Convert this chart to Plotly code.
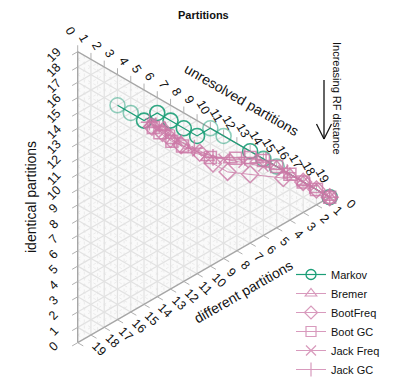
import numpy as np
import plotly.graph_objects as go

# ---------------- data ----------------
N_PARTITIONS = 19
tick_values = list(range(0, 20))

markov_identical = [14, 13, 12, 12, 11, 10, 9, 9, 8, 6, 5, 4, 0]
markov_unresolved = [3, 4, 5, 6, 7, 8, 9, 10, 11, 13, 14, 15, 19]
markov_different = [2, 2, 2, 1, 1, 1, 1, 0, 0, 0, 0, 0, 0]
markov_alpha = [0.45, 0.5, 0.9, 0.9, 0.9, 0.9, 0.9, 0.5, 0.5, 0.9, 0.75, 0.6, 0.9]

bremer_identical = [11.5, 10.8, 9.6, 8.5, 7.2, 6.2, 5.2, 4.0, 3.0, 2.0, 1.0, 0]
bremer_unresolved = [5.5, 6.5, 7.2, 8.2, 9.8, 11.5, 13.5, 15, 16, 17, 18, 19]
bremer_different = [2.0, 1.7, 2.2, 2.3, 2.0, 1.3, 0.3, 0, 0, 0, 0, 0]

bootfreq_identical = [11.3, 10.5, 9.8, 9.0, 7.8, 6.6, 5.5, 4.5, 3.0, 2.0, 1.0, 0]
bootfreq_unresolved = [5.6, 6.4, 7.0, 7.8, 9.2, 10.2, 11.3, 13.0, 15.5, 17, 18, 19]
bootfreq_different = [2.1, 2.1, 2.2, 2.2, 2.0, 2.2, 2.2, 1.5, 0.5, 0, 0, 0]

bootgc_identical = [11.2, 10.6, 9.6, 8.9, 7.1, 6.1, 5.6, 4.9, 4.0, 3.0, 2.0, 1.0, 0]
bootgc_unresolved = [5.7, 6.2, 7.1, 7.9, 10.0, 11.9, 13.0, 14.0, 15, 16, 17, 18, 19]
bootgc_different = [2.1, 2.2, 2.3, 2.2, 1.9, 1.0, 0.4, 0.1, 0, 0, 0, 0, 0]

jackfreq_identical = [11.6, 11.0, 10.5, 9.5, 8.0, 6.5, 5.5, 4.5, 3.5, 2.0, 0]
jackfreq_unresolved = [5.5, 6.0, 6.5, 7.5, 9.0, 11.0, 12.5, 14.0, 15.5, 17.0, 19]
jackfreq_different = [1.9, 2.0, 2.0, 2.0, 2.0, 1.5, 1.0, 0.5, 0, 0, 0]

jackgc_identical = [11.7, 11.2, 10.6, 9.7, 8.3, 7.0, 5.8, 4.8, 3.2, 1.5, 0]
jackgc_unresolved = [5.4, 5.9, 6.6, 7.3, 8.8, 10.2, 12.6, 14.2, 15.8, 17.5, 19]
jackgc_different = [1.9, 1.9, 1.8, 2.0, 1.9, 1.8, 0.6, 0, 0, 0, 0]

# ---------------- style ----------------
GREEN = "#1b9e77"
PINK = "#cc79a7"
FONT = "Liberation Sans, Arial, sans-serif"
W, H = 393, 386
S3 = np.sqrt(3) / 2
PX_PER_UNIT = 15.316
X0_PX, Y0_PX = 77.7, 342.7  # pixel position of the "different" vertex


def tern(identical, unresolved, different):
    i = np.asarray(identical, float)
    u = np.asarray(unresolved, float)
    d = np.asarray(different, float)
    tot = i + u + d
    i = i / tot * N_PARTITIONS
    u = u / tot * N_PARTITIONS
    return u * S3, i + u / 2


def px(xp, yp):
    return xp / W, 1 - yp / H


fig = go.Figure()

# triangle background
vx, vy = tern([0, N_PARTITIONS, 0, 0], [0, 0, N_PARTITIONS, 0], [N_PARTITIONS, 0, 0, N_PARTITIONS])
fig.add_trace(go.Scatter(x=vx, y=vy, mode="lines", fill="toself", fillcolor="#fafafa",
                         line=dict(color="rgba(0,0,0,0)", width=0), hoverinfo="skip", showlegend=False))


def grid_lines(values):
    xs, ys = [], []
    for k in values:
        segs = [
            ((k, 0, N_PARTITIONS - k), (k, N_PARTITIONS - k, 0)),
            ((N_PARTITIONS - k, k, 0), (0, k, N_PARTITIONS - k)),
            ((N_PARTITIONS - k, 0, k), (0, N_PARTITIONS - k, k)),
        ]
        for a, b in segs:
            x, y = tern([a[0], b[0]], [a[1], b[1]], [a[2], b[2]])
            xs += list(x) + [None]
            ys += list(y) + [None]
    return xs, ys


minor = [k + 0.5 for k in tick_values[:-1]]
mx, my = grid_lines(minor)
fig.add_trace(go.Scatter(x=mx, y=my, mode="lines", line=dict(color="#e0e0e0", width=0.6, dash="dot"),
                         hoverinfo="skip", showlegend=False))
gx, gy = grid_lines(tick_values[1:-1])
fig.add_trace(go.Scatter(x=gx, y=gy, mode="lines", line=dict(color="#e2e2e2", width=1.2),
                         hoverinfo="skip", showlegend=False))

# border
fig.add_trace(go.Scatter(x=vx, y=vy, mode="lines", line=dict(color="#a6a6a6", width=1.4),
                         hoverinfo="skip", showlegend=False))

# ticks
tl = 0.42
txs, tys = [], []
for k in tick_values:
    x, y = tern([k], [0], [N_PARTITIONS - k])
    txs += [x[0], x[0] - tl * S3, None]; tys += [y[0], y[0] - tl * 0.5, None]
    x, y = tern([N_PARTITIONS - k], [k], [0])
    txs += [x[0], x[0], None]; tys += [y[0], y[0] + tl, None]
    x, y = tern([0], [N_PARTITIONS - k], [k])
    txs += [x[0], x[0] + tl * S3, None]; tys += [y[0], y[0] - tl * 0.5, None]
fig.add_trace(go.Scatter(x=txs, y=tys, mode="lines", line=dict(color="#b0b0b0", width=1),
                         hoverinfo="skip", showlegend=False))

# data
x, y = tern(markov_identical, markov_unresolved, markov_different)
fig.add_trace(go.Scatter(x=x, y=y, mode="lines+markers", name="Markov", showlegend=False,
                         line=dict(color=GREEN, width=1.2),
                         marker=dict(symbol="circle-open", size=15, color=GREEN, opacity=markov_alpha,
                                     line=dict(width=1.6, color=GREEN))))
fig.add_trace(go.Scatter(x=[None], y=[None], mode="lines+markers", name="Markov",
                         line=dict(color=GREEN, width=1.2),
                         marker=dict(symbol="circle-open", size=10, color=GREEN,
                                     line=dict(width=1.3, color=GREEN))))

pink_series = [
    ("Bremer", "triangle-up-open", bremer_identical, bremer_unresolved, bremer_different, 12),
    ("BootFreq", "diamond-open", bootfreq_identical, bootfreq_unresolved, bootfreq_different, 13),
    ("Boot GC", "square-open", bootgc_identical, bootgc_unresolved, bootgc_different, 12),
    ("Jack Freq", "x-thin-open", jackfreq_identical, jackfreq_unresolved, jackfreq_different, 10),
    ("Jack GC", "cross-thin-open", jackgc_identical, jackgc_unresolved, jackgc_different, 12),
]
for name, sym, ii, uu, dd, sz in pink_series:
    x, y = tern(ii, uu, dd)
    fig.add_trace(go.Scatter(x=x, y=y, mode="lines+markers", name=name, opacity=0.8, showlegend=False,
                             line=dict(color=PINK, width=1),
                             marker=dict(symbol=sym, size=sz, color=PINK,
                                         line=dict(width=1.5, color=PINK))))
for name, sym, ii, uu, dd, sz in pink_series:
    fig.add_trace(go.Scatter(x=[None], y=[None], mode="lines+markers", name=name, opacity=0.75,
                             line=dict(color=PINK, width=1),
                             marker=dict(symbol=sym, size=10, color=PINK,
                                         line=dict(width=1.2, color=PINK))))

# tick labels
ann = []
lab_font = dict(family=FONT, size=12.5, color="#111")
for k in tick_values:
    x, y = tern([k], [0], [N_PARTITIONS - k])
    ann.append(dict(x=x[0] - 1.55, y=y[0] - 0.22, text=str(k), showarrow=False, textangle=-45,
                    font=lab_font, xanchor="center", yanchor="middle"))
    x, y = tern([N_PARTITIONS - k], [k], [0])
    ann.append(dict(x=x[0] - 0.49, y=y[0] + 1.37, text=str(k), showarrow=False, textangle=60,
                    font=lab_font, xanchor="center", yanchor="middle"))
    x, y = tern([0], [N_PARTITIONS - k], [k])
    ann.append(dict(x=x[0] + 1.4, y=y[0] - 0.42, text=str(k), showarrow=False, textangle=45,
                    font=lab_font, xanchor="center", yanchor="middle"))

title_font = dict(family=FONT, size=14, color="#111")
for text, (xp, yp), ang in [("identical partitions", (31, 197), -90),
                            ("unresolved partitions", (242, 100), 30),
                            ("different partitions", (243, 292), -30)]:
    xx, yy = px(xp, yp)
    ann.append(dict(x=xx, y=yy, xref="paper", yref="paper", text=text, showarrow=False, textangle=ang,
                    font=title_font, xanchor="center", yanchor="middle"))

xx, yy = px(203, 15)
ann.append(dict(x=xx, y=yy, xref="paper", yref="paper", text="<b>Partitions</b>", showarrow=False,
                font=dict(family=FONT, size=11, color="#111"), xanchor="center", yanchor="middle"))
xx, yy = px(337, 98)
ann.append(dict(x=xx, y=yy, xref="paper", yref="paper", text="Increasing RF distance", showarrow=False,
                textangle=90, font=dict(family=FONT, size=11, color="#111"),
                xanchor="center", yanchor="middle"))

shapes = []
for (a, b) in [((324, 80), (324, 139)), ((316.5, 124), (324, 139)), ((331.5, 124), (324, 139))]:
    x0, y0 = px(*a); x1, y1 = px(*b)
    shapes.append(dict(type="line", xref="paper", yref="paper", x0=x0, y0=y0, x1=x1, y1=y1,
                       line=dict(color="#111", width=1.3)))

xr = [-X0_PX / PX_PER_UNIT, (W - X0_PX) / PX_PER_UNIT]
yr = [(Y0_PX - H) / PX_PER_UNIT, Y0_PX / PX_PER_UNIT]
lx, ly = px(291, 384)
fig.update_layout(
    width=W, height=H, margin=dict(l=0, r=0, t=0, b=0, pad=0, autoexpand=False),
    paper_bgcolor="white", plot_bgcolor="white",
    xaxis=dict(range=xr, visible=False, fixedrange=True),
    yaxis=dict(range=yr, visible=False, fixedrange=True),
    annotations=ann, shapes=shapes,
    legend=dict(x=lx, y=ly, xanchor="left", yanchor="bottom", bgcolor="rgba(0,0,0,0)",
                font=dict(family=FONT, size=11, color="#111"), itemwidth=30, tracegroupgap=0),
    showlegend=True,
)
fig.write_html("out.html", config={"displayModeBar": False, "staticPlot": True},
               post_script="document.body.style.margin='0';document.body.style.padding='0';"
                           "document.documentElement.style.overflow='hidden';")
